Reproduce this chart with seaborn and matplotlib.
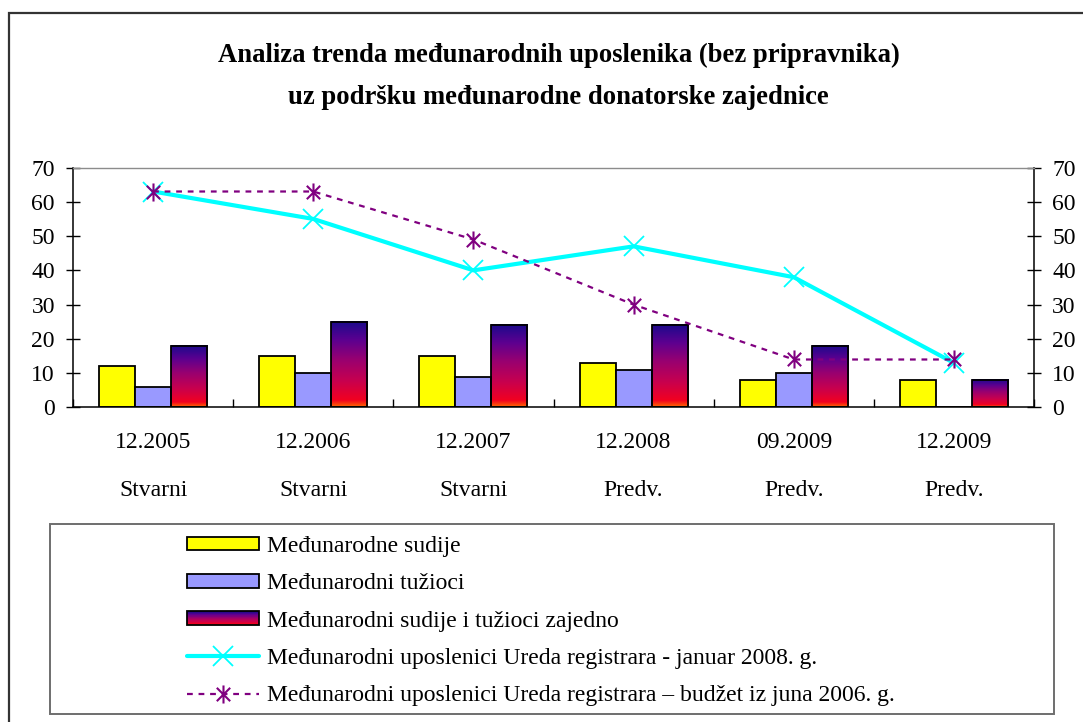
import numpy as np
import pandas as pd
import matplotlib
matplotlib.use("Agg")
import matplotlib.pyplot as plt
import seaborn as sns
from matplotlib.colors import LinearSegmentedColormap
from matplotlib.legend_handler import HandlerBase
from matplotlib.patches import Rectangle
from matplotlib.path import Path
from matplotlib.markers import MarkerStyle

# ---- data -------------------------------------------------------------
periods = ["12.2005", "12.2006", "12.2007", "12.2008", "09.2009", "12.2009"]
status = ["Stvarni", "Stvarni", "Stvarni", "Predv.", "Predv.", "Predv."]

sudije = [12, 15, 15, 13, 8, 8]
tuzioci = [6, 10, 9, 11, 10, 0]
zajedno = [18, 25, 24, 24, 18, 8]
registrar_jan2008 = [63, 55, 40, 47, 38, 13]
registrar_budzet2006 = [63, 63, 49, 30, 14, 14]

bar_names = ["Međunarodne sudije", "Međunarodni tužioci",
             "Međunarodni sudije i tužioci zajedno"]
line_names = ["Međunarodni uposlenici Ureda registrara - januar 2008. g.",
              "Međunarodni uposlenici Ureda registrara – budžet iz juna 2006. g."]
title_lines = ["Analiza trenda međunarodnih uposlenika (bez pripravnika)",
               "uz podršku međunarodne donatorske zajednice"]
y_ticks = [0, 10, 20, 30, 40, 50, 60, 70]

bars = pd.DataFrame({
    "period": periods * 3,
    "serija": np.repeat(bar_names, len(periods)),
    "broj": sudije + tuzioci + zajedno,
})

# ---- style ------------------------------------------------------------
sns.set_theme(style="white")
plt.rcParams["font.family"] = ["Liberation Serif", "DejaVu Serif"]
plt.rcParams["text.color"] = "black"
plt.rcParams["xtick.color"] = "black"
plt.rcParams["ytick.color"] = "black"
plt.rcParams["xtick.labelcolor"] = "black"
plt.rcParams["ytick.labelcolor"] = "black"
FS = 17

fire = LinearSegmentedColormap.from_list(
    "fire",
    [(0.0, "#ff6a00"), (0.08, "#f20020"), (0.30, "#c8004e"),
     (0.55, "#990070"), (0.78, "#5c0090"), (1.0, "#1a0a8c")])

fig = plt.figure(figsize=(10.83, 7.22), dpi=100)
ax = fig.add_axes([0.0674, 0.4356, 0.8874, 0.3324])

sns.barplot(data=bars, x="period", y="broj", hue="serija", order=periods,
            hue_order=bar_names, palette=["#ffff00", "#9999ff", "#7a0090"],
            saturation=1, width=0.675, gap=0, edgecolor="black",
            linewidth=1.3, errorbar=None, legend=False, ax=ax)

# vertical gradient fill for the combined bars
grad = np.linspace(0, 1, 256).reshape(-1, 1)
for bar in ax.containers[2]:
    x, w, h = bar.get_x(), bar.get_width(), bar.get_height()
    if h > 0:
        ax.imshow(grad, extent=[x, x + w, 0, h], origin="lower", aspect="auto",
                  cmap=fire, interpolation="bilinear", zorder=0.9)
    bar.set_facecolor("none")
    bar.set_zorder(1.1)

# asterisk marker: an x crossed by a vertical stroke
star = MarkerStyle(Path(
    [(-1, -1), (1, 1), (-1, 1), (1, -1), (0, -1.35), (0, 1.35)],
    [Path.MOVETO, Path.LINETO, Path.MOVETO, Path.LINETO, Path.MOVETO, Path.LINETO]))

sns.pointplot(x=periods, y=registrar_jan2008, order=periods, color="#00ffff",
              marker="x", linestyles="-", errorbar=None, ax=ax,
              linewidth=3, markersize=14, markeredgewidth=1.3, zorder=3)
sns.pointplot(x=periods, y=registrar_budzet2006, order=periods, color="#800080",
              marker=star, linestyles=(0, (2.6, 2.6)), errorbar=None, ax=ax,
              linewidth=1.6, markersize=13, markeredgewidth=1.5,
              markerfacecolor="none", zorder=3)

# ---- axes ---------------------------------------------------------------
ax.set_xlim(-0.5, len(periods) - 0.5)
ax.set_ylim(0, 70)
ax.set_xlabel("")
ax.set_ylabel("")
ax.set_yticks(y_ticks)
ax.tick_params(axis="y", left=True, right=True, labelleft=True, labelright=True,
               direction="inout", length=10, width=1, color="black",
               labelcolor="black", labelsize=FS, pad=8)
ax.set_xticks(range(len(periods)))
ax.set_xticklabels([f"{p}\n{s}" for p, s in zip(periods, status)],
                   fontsize=FS, linespacing=2.65, color="black")
ax.tick_params(axis="x", which="major", length=0, pad=18)
ax.set_xticks(np.arange(-0.5, len(periods)), minor=True)
ax.tick_params(axis="x", which="minor", direction="out", length=71,
               width=1, color="black")
sec = ax.secondary_xaxis("bottom")
sec.set_xticks(np.arange(-0.5, len(periods)))
sec.tick_params(direction="in", length=6, width=1, color="black",
                labelbottom=False)
sec.spines["bottom"].set_visible(False)

for side in ("left", "right", "bottom"):
    ax.spines[side].set_color("black")
    ax.spines[side].set_linewidth(1.1)
ax.spines["top"].set_color("#8c8c8c")
ax.spines["top"].set_linewidth(1.0)

# ---- title --------------------------------------------------------------
fig.text(0.516, 1 - 55 / 722, title_lines[0], ha="center", va="center",
         fontsize=19.2, fontweight="bold", color="black")
fig.text(0.516, 1 - 97 / 722, title_lines[1], ha="center", va="center",
         fontsize=19.2, fontweight="bold", color="black")

# ---- legend -------------------------------------------------------------
class GradientHandler(HandlerBase):
    def __init__(self, cmap, steps=24):
        super().__init__()
        self.cmap = cmap
        self.steps = steps

    def create_artists(self, legend, orig_handle, xdescent, ydescent,
                       width, height, fontsize, trans):
        arts = []
        for i in range(self.steps):
            arts.append(Rectangle(
                (-xdescent, -ydescent + height * i / self.steps),
                width, height / self.steps, transform=trans,
                facecolor=self.cmap((i + 0.5) / self.steps), edgecolor="none"))
        arts.append(Rectangle((-xdescent, -ydescent), width, height,
                              transform=trans, facecolor="none",
                              edgecolor="black", linewidth=1.3))
        return arts


grad_proxy = Rectangle((0, 0), 1, 1)
handles = [ax.containers[0][0], ax.containers[1][0], grad_proxy,
           ax.lines[0], ax.lines[1]]
leg = fig.legend(handles, bar_names + line_names, loc="upper left",
                 bbox_to_anchor=(187 / 1083, 1 - 536 / 722), frameon=False,
                 fontsize=FS, handlelength=3.05, handleheight=0.5,
                 handletextpad=0.35, labelspacing=0.69, borderpad=0,
                 borderaxespad=0, numpoints=1, labelcolor="black",
                 handler_map={grad_proxy: GradientHandler(fire)})

# legend frame and outer chart frame
fig.patches.append(Rectangle((50 / 1083, 1 - 714 / 722), 1004 / 1083, 190 / 722,
                             transform=fig.transFigure, facecolor="none",
                             edgecolor="#6e6e6e", linewidth=1.4))
fig.patches.append(Rectangle((9 / 1083, -0.05), 1.2, 1.05 - 13 / 722,
                             transform=fig.transFigure, facecolor="none",
                             edgecolor="#333333", linewidth=1.6))

fig.savefig("out.png", dpi=100)
